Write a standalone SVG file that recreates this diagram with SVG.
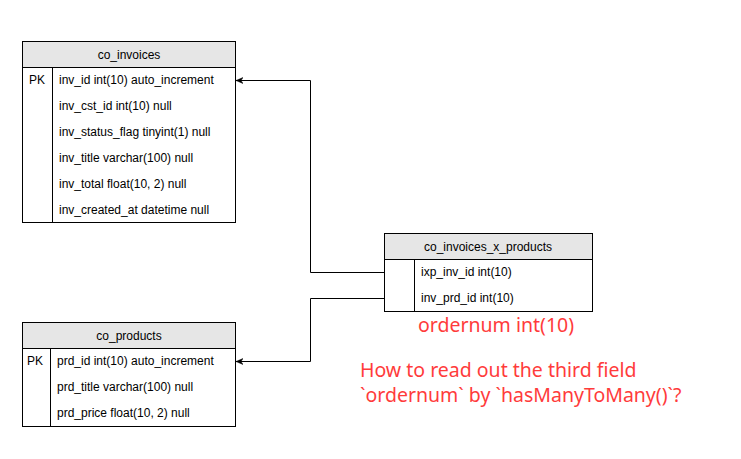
<svg xmlns="http://www.w3.org/2000/svg" width="741" height="459" viewBox="0 0 741 459">
<style>
.box{fill:#ffffff;stroke:#000000;stroke-width:1}
.hdr{fill:#e6e6e6;stroke:#000000;stroke-width:1}
.ln{stroke:#000000;stroke-width:1;fill:none}
.t{font-family:"Liberation Sans",Arial,sans-serif;font-size:12px;fill:#000000}
.h{font-family:"Liberation Sans",Arial,sans-serif;font-size:12px;fill:#000000;text-anchor:middle}
.red{font-family:"Noto Sans","Open Sans",sans-serif;font-size:19.5px;fill:#ff3b3b}
</style>
<defs>
<marker id="arr" markerWidth="8" markerHeight="8" refX="7" refY="4" orient="auto" markerUnits="userSpaceOnUse">
<path d="M0,1 L7,4 L0,7 L2,4 Z" fill="#000000" stroke="#000000" stroke-width="0.5"/>
</marker>
</defs>
<rect width="741" height="459" fill="#ffffff"/>
<g id="connectors">
<path class="ln" d="M384.5,272.5 H310.5 V80.5 H236" marker-end="url(#arr)"/>
<path class="ln" d="M384.5,298.5 H310.5 V361.5 H236" marker-end="url(#arr)"/>
</g>
<g id="co_invoices">
<rect class="box" x="22.5" y="41.5" width="213" height="181"/>
<rect class="hdr" x="22.5" y="41.5" width="213" height="26"/>
<line class="ln" x1="52.5" y1="67.5" x2="52.5" y2="222.5"/>
<text class="h" x="129" y="59">co_invoices</text>
<text class="t" x="29" y="84">PK</text>
<text class="t" x="59" y="84">inv_id int(10) auto_increment</text>
<text class="t" x="59" y="110">inv_cst_id int(10) null</text>
<text class="t" x="59" y="136">inv_status_flag tinyint(1) null</text>
<text class="t" x="59" y="162">inv_title varchar(100) null</text>
<text class="t" x="59" y="188">inv_total float(10, 2) null</text>
<text class="t" x="59" y="214">inv_created_at datetime null</text>
</g>
<g id="co_invoices_x_products">
<rect class="box" x="384.5" y="233.5" width="208" height="78"/>
<rect class="hdr" x="384.5" y="233.5" width="208" height="26"/>
<line class="ln" x1="414.5" y1="259.5" x2="414.5" y2="311.5"/>
<text class="h" x="488" y="251">co_invoices_x_products</text>
<text class="t" x="421" y="276">ixp_inv_id int(10)</text>
<text class="t" x="421" y="302">inv_prd_id int(10)</text>
</g>
<g id="co_products">
<rect class="box" x="22.5" y="322.5" width="213" height="104"/>
<rect class="hdr" x="22.5" y="322.5" width="213" height="26"/>
<line class="ln" x1="50.5" y1="348.5" x2="50.5" y2="426.5"/>
<text class="h" x="129" y="340">co_products</text>
<text class="t" x="27" y="365">PK</text>
<text class="t" x="57" y="365">prd_id int(10) auto_increment</text>
<text class="t" x="57" y="391">prd_title varchar(100) null</text>
<text class="t" x="57" y="417">prd_price float(10, 2) null</text>
</g>
<g id="notes">
<text class="red" x="418" y="332">ordernum int(10)</text>
<text class="red" x="360" y="377">How to read out the third field</text>
<text class="red" x="360" y="402">`ordernum` by `hasManyToMany()`?</text>
</g>
</svg>
